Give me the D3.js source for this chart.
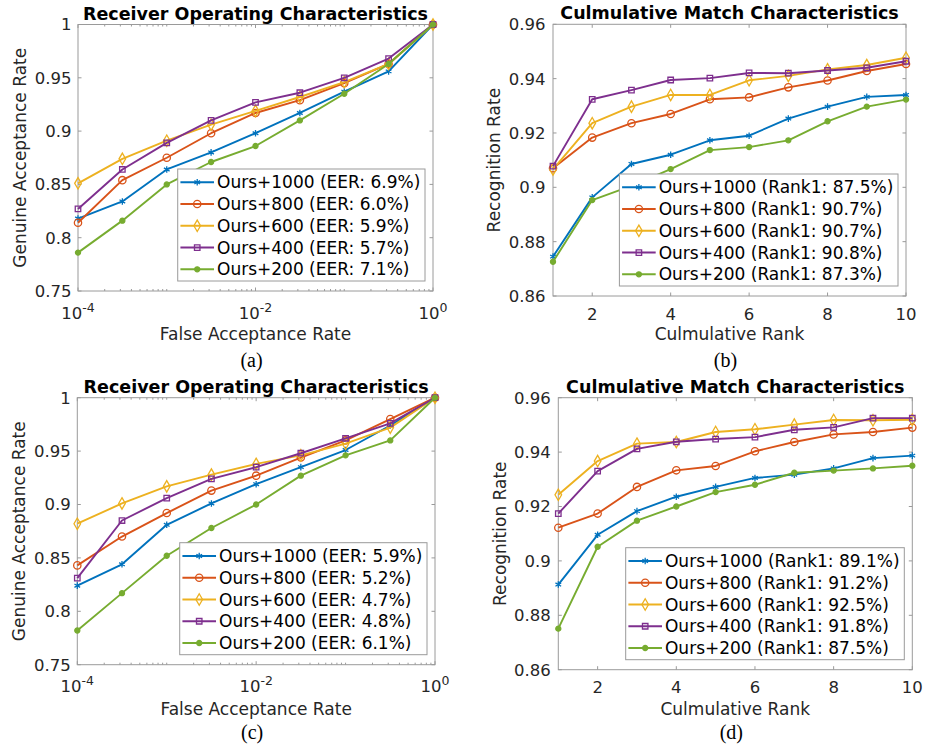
<!DOCTYPE html>
<html>
<head>
<meta charset="utf-8">
<script src="https://cdn.jsdelivr.net/npm/d3@7"></script>
<style>
  body { margin: 0; background: #fff; }
  svg { display: block; font-family: "DejaVu Sans", sans-serif; }
  .tick-label { fill: #262626; font-size: 16.5px; }
  .axis-label { fill: #262626; font-size: 17px; }
  .title { fill: #000; font-size: 17.5px; font-weight: bold; }
  .caption { fill: #000; font-family: "Liberation Serif", serif; font-size: 20px; }
  .legend-text { fill: #000; font-size: 17px; }
</style>
</head>
<body>
<svg id="chart" width="926" height="744"></svg>
<script>
// ---- data ----
const seriesNames = ["Ours+1000", "Ours+800", "Ours+600", "Ours+400", "Ours+200"];
const farValues = [1e-4, 3.16e-4, 1e-3, 3.16e-3, 1e-2, 3.16e-2, 1e-1, 3.16e-1, 1];
const ranks = [1, 2, 3, 4, 5, 6, 7, 8, 9, 10];

const farTicks = [1e-4, 1e-2, 1];
const farExponents = ["-4", "-2", "0"];
const rankTicks = [2, 4, 6, 8, 10];
const rocYTicks = [0.75, 0.8, 0.85, 0.9, 0.95, 1];
const cmcYTicks = [0.86, 0.88, 0.9, 0.92, 0.94, 0.96];

// (a) ROC, one row per series
const rocA = [
  [0.818, 0.834, 0.864, 0.880, 0.898, 0.917, 0.937, 0.956, 1.0],
  [0.814, 0.854, 0.875, 0.898, 0.917, 0.929, 0.945, 0.963, 1.0],
  [0.851, 0.874, 0.891, 0.906, 0.919, 0.932, 0.946, 0.963, 1.0],
  [0.827, 0.864, 0.889, 0.910, 0.927, 0.936, 0.950, 0.968, 1.0],
  [0.786, 0.816, 0.850, 0.871, 0.886, 0.910, 0.935, 0.963, 1.0]
];
const eerA = ["6.9%", "6.0%", "5.9%", "5.7%", "7.1%"];

// (b) CMC
const cmcB = [
  [0.8745, 0.8963, 0.9086, 0.9120, 0.9173, 0.9190, 0.9253, 0.9297, 0.9333, 0.9340],
  [0.9070, 0.9183, 0.9236, 0.9270, 0.9324, 0.9331, 0.9368, 0.9393, 0.9428, 0.9454],
  [0.9066, 0.9236, 0.9297, 0.9340, 0.9340, 0.9394, 0.9410, 0.9434, 0.9450, 0.9477],
  [0.9078, 0.9324, 0.9358, 0.9395, 0.9402, 0.9421, 0.9420, 0.9430, 0.9440, 0.9464],
  [0.8726, 0.8953, 0.9005, 0.9067, 0.9137, 0.9148, 0.9173, 0.9243, 0.9297, 0.9323]
];
const rank1B = ["87.5%", "90.7%", "90.7%", "90.8%", "87.3%"];

// (c) ROC
const rocC = [
  [0.824, 0.844, 0.881, 0.901, 0.919, 0.935, 0.951, 0.974, 1.0],
  [0.843, 0.870, 0.892, 0.913, 0.927, 0.944, 0.960, 0.980, 1.0],
  [0.882, 0.901, 0.917, 0.928, 0.938, 0.946, 0.957, 0.972, 1.0],
  [0.831, 0.885, 0.906, 0.924, 0.935, 0.948, 0.962, 0.976, 1.0],
  [0.782, 0.817, 0.852, 0.878, 0.900, 0.927, 0.946, 0.960, 1.0]
];
const eerC = ["5.9%", "5.2%", "4.7%", "4.8%", "6.1%"];

// (d) CMC
const cmcD = [
  [0.8913, 0.9096, 0.9183, 0.9236, 0.9272, 0.9305, 0.9317, 0.9340, 0.9378, 0.9387],
  [0.9122, 0.9174, 0.9272, 0.9333, 0.9349, 0.9403, 0.9437, 0.9465, 0.9474, 0.9490],
  [0.9243, 0.9367, 0.9431, 0.9437, 0.9474, 0.9484, 0.9501, 0.9518, 0.9517, 0.9519],
  [0.9174, 0.9330, 0.9412, 0.9438, 0.9448, 0.9455, 0.9482, 0.9491, 0.9525, 0.9525],
  [0.8751, 0.9052, 0.9148, 0.9200, 0.9253, 0.9280, 0.9324, 0.9332, 0.9340, 0.9350]
];
const rank1D = ["89.1%", "91.2%", "92.5%", "91.8%", "87.5%"];

// ---- styling ----
const colors = ["#0072BD", "#D95319", "#EDB120", "#7E2F8E", "#77AC30"];
const markers = [
  { type: d3.symbolAsterisk, size: 30, fill: "none" },
  { type: d3.symbolCircle, size: 42, fill: "none" },
  { type: d3.symbolDiamond, size: 38, fill: "none" },
  { type: d3.symbolSquare, size: 30, fill: "none" },
  { type: d3.symbolCircle, size: 20, fill: "solid" }
];
const axisColor = "#9a9a9a";

const svg = d3.select("#chart");

const panels = [
  { box: [78, 24.5, 433, 291], log: true, x: farValues, ys: rocA, tags: eerA, tagName: "EER",
    title: "Receiver Operating Characteristics", yLabel: "Genuine Acceptance Rate",
    xLabel: "False Acceptance Rate", yLabelX: 20, xLabelY: 340, caption: "(a)", captionY: 367 },
  { box: [553, 24.3, 906, 296], log: false, x: ranks, ys: cmcB, tags: rank1B, tagName: "Rank1",
    title: "Culmulative Match Characteristics", yLabel: "Recognition Rate",
    xLabel: "Culmulative Rank", yLabelX: 494, xLabelY: 340, caption: "(b)", captionY: 367 },
  { box: [77.3, 397.7, 435, 664.7], log: true, x: farValues, ys: rocC, tags: eerC, tagName: "EER",
    title: "Receiver Operating Characteristics", yLabel: "Genuine Acceptance Rate",
    xLabel: "False Acceptance Rate", yLabelX: 19, xLabelY: 714.5, caption: "(c)", captionY: 739 },
  { box: [558.3, 397.7, 912.3, 669.7], log: false, x: ranks, ys: cmcD, tags: rank1D, tagName: "Rank1",
    title: "Culmulative Match Characteristics", yLabel: "Recognition Rate",
    xLabel: "Culmulative Rank", yLabelX: 499.5, xLabelY: 714.5, caption: "(d)", captionY: 739 }
];

panels.forEach(drawPanel);

/** Draws one subplot: axes box, ticks, series, legend, labels. */
function drawPanel(p) {
  const [x0, y0, x1, y1] = p.box;
  const g = svg.append("g");

  const x = p.log
    ? d3.scaleLog().domain([1e-4, 1]).range([x0, x1])
    : d3.scaleLinear().domain([1, 10]).range([x0, x1]);
  const yTicks = p.log ? rocYTicks : cmcYTicks;
  const y = d3.scaleLinear().domain(d3.extent(yTicks)).range([y1, y0]);

  // axes box
  g.append("rect")
    .attr("x", x0).attr("y", y0).attr("width", x1 - x0).attr("height", y1 - y0)
    .attr("fill", "#fff").attr("stroke", axisColor).attr("stroke-width", 1);

  // y ticks (inward, both sides)
  const ticks = g.append("g").attr("stroke", axisColor).attr("stroke-width", 1);
  yTicks.forEach(t => {
    ticks.append("line").attr("x1", x0).attr("x2", x0 + 3.5).attr("y1", y(t)).attr("y2", y(t));
    ticks.append("line").attr("x1", x1).attr("x2", x1 - 3.5).attr("y1", y(t)).attr("y2", y(t));
  });
  g.selectAll(".ytl").data(yTicks).join("text")
    .attr("class", "tick-label")
    .attr("x", x0 - (p.log ? 6.5 : 7.5)).attr("y", d => y(d)).attr("dy", "0.36em")
    .attr("text-anchor", "end")
    .text(d => String(+d.toFixed(2)));

  // x ticks
  if (p.log) {
    const minor = x.ticks().filter(t => !farTicks.some(m => Math.abs(m - t) < 1e-12));
    minor.forEach(t => {
      ticks.append("line").attr("x1", x(t)).attr("x2", x(t)).attr("y1", y1).attr("y2", y1 - 2);
      ticks.append("line").attr("x1", x(t)).attr("x2", x(t)).attr("y1", y0).attr("y2", y0 + 2);
    });
    farTicks.forEach((t, i) => {
      ticks.append("line").attr("x1", x(t)).attr("x2", x(t)).attr("y1", y1).attr("y2", y1 - 3.5);
      ticks.append("line").attr("x1", x(t)).attr("x2", x(t)).attr("y1", y0).attr("y2", y0 + 3.5);
      const tl = g.append("text").attr("class", "tick-label")
        .attr("x", x(t)).attr("y", y1 + 27.5).attr("text-anchor", "middle");
      tl.append("tspan").text("10");
      tl.append("tspan").attr("dy", "-0.55em").attr("font-size", "12.5px").text(farExponents[i]);
    });
  } else {
    rankTicks.forEach(t => {
      ticks.append("line").attr("x1", x(t)).attr("x2", x(t)).attr("y1", y1).attr("y2", y1 - 3.5);
      ticks.append("line").attr("x1", x(t)).attr("x2", x(t)).attr("y1", y0).attr("y2", y0 + 3.5);
      g.append("text").attr("class", "tick-label")
        .attr("x", x(t)).attr("y", y1 + 23.5).attr("text-anchor", "middle").text(t);
    });
  }

  // series
  const line = d3.line().x((d, i) => x(p.x[i])).y(d => y(d));
  const series = g.append("g");
  p.ys.forEach((vals, s) => {
    series.append("path").datum(vals)
      .attr("d", line).attr("fill", "none")
      .attr("stroke", colors[s]).attr("stroke-width", 1.9).attr("stroke-linejoin", "round");
    const sym = d3.symbol().type(markers[s].type).size(markers[s].size);
    series.selectAll(null).data(vals).join("path")
      .attr("transform", (d, i) => `translate(${x(p.x[i])},${y(d)})`)
      .attr("d", sym)
      .attr("fill", markers[s].fill === "solid" ? colors[s] : "none")
      .attr("stroke", colors[s]).attr("stroke-width", 1.3);
  });

  // legend, anchored bottom-right inside the axes
  const rowGap = 21.75, sampleW = 33.6;
  const lg = g.append("g");
  const bg = lg.append("rect").attr("fill", "#fff").attr("stroke", axisColor).attr("stroke-width", 1);
  const labels = seriesNames.map((n, s) => `${n} (${p.tagName}: ${p.tags[s]})`);
  const texts = lg.selectAll(".legend-text").data(labels).join("text")
    .attr("class", "legend-text").attr("dy", "0.36em").text(d => d);
  const textW = d3.max(texts.nodes(), n => n.getComputedTextLength());
  const boxW = 2.7 + sampleW + 3 + textW + 4.7, boxH = 112;
  const bx = x1 - 8 - boxW, by = y1 - 10 - boxH;
  bg.attr("x", bx).attr("y", by).attr("width", boxW).attr("height", boxH);
  const rowY = s => by + 13.3 + s * rowGap;
  texts.attr("x", bx + 2.7 + sampleW + 3).attr("y", (d, s) => rowY(s));
  labels.forEach((d, s) => {
    const cx = bx + 2.7 + sampleW / 2;
    lg.append("line")
      .attr("x1", bx + 2.7).attr("x2", bx + 2.7 + sampleW)
      .attr("y1", rowY(s)).attr("y2", rowY(s))
      .attr("stroke", colors[s]).attr("stroke-width", 1.9);
    lg.append("path")
      .attr("transform", `translate(${cx},${rowY(s)})`)
      .attr("d", d3.symbol().type(markers[s].type).size(markers[s].size))
      .attr("fill", markers[s].fill === "solid" ? colors[s] : "none")
      .attr("stroke", colors[s]).attr("stroke-width", 1.3);
  });

  // labels
  const cxAxes = (x0 + x1) / 2, cyAxes = (y0 + y1) / 2;
  g.append("text").attr("class", "title")
    .attr("x", cxAxes).attr("y", y0 - 5).attr("text-anchor", "middle").text(p.title);
  g.append("text").attr("class", "axis-label")
    .attr("x", cxAxes).attr("y", p.xLabelY).attr("text-anchor", "middle").text(p.xLabel);
  g.append("text").attr("class", "axis-label")
    .attr("transform", `translate(${p.yLabelX},${cyAxes}) rotate(-90)`)
    .attr("dy", "0.36em").attr("text-anchor", "middle").text(p.yLabel);
  g.append("text").attr("class", "caption")
    .attr("x", cxAxes - 4).attr("y", p.captionY).attr("text-anchor", "middle").text(p.caption);
}
</script>
</body>
</html>
